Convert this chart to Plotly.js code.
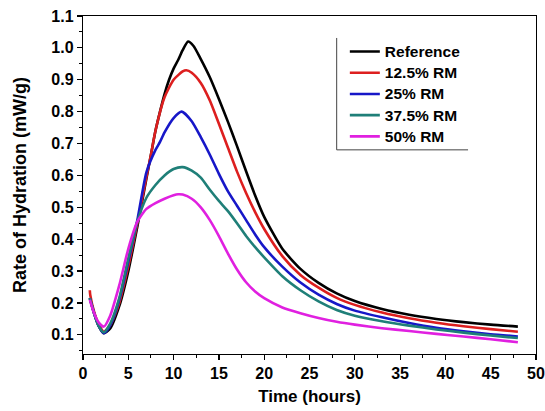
<!DOCTYPE html>
<html>
<head>
<meta charset="utf-8">
<script src="https://cdn.plot.ly/plotly-3.0.1.min.js"></script>
<style>html,body{margin:0;padding:0;background:#fff}#chart{width:545px;height:411px}</style>
</head>
<body>
<div id="chart"></div>
<script>
// Series names
const seriesNames = ["Reference", "12.5% RM", "25% RM", "37.5% RM", "50% RM"];

// Reference
const refTime = [0.75, 1.2, 1.7, 2.3, 3, 4, 5, 6, 7, 7.5, 8, 8.5, 9, 9.5, 10, 10.5, 11, 11.6, 12.2, 13, 14, 15, 16, 17, 18, 19, 20, 22, 24, 26, 28, 30, 33, 36, 39, 42, 45, 48];
const refRate = [0.215, 0.17, 0.13, 0.105, 0.12, 0.19, 0.3, 0.44, 0.59, 0.665, 0.74, 0.8, 0.855, 0.9, 0.935, 0.962, 0.993, 1.02, 1.006, 0.965, 0.908, 0.84, 0.768, 0.692, 0.613, 0.537, 0.47, 0.37, 0.307, 0.263, 0.23, 0.206, 0.181, 0.163, 0.15, 0.14, 0.132, 0.126];

// 12.5% RM
const rm125Time = [0.75, 0.8, 1.2, 1.7, 2.3, 3, 4, 5, 6, 7, 7.5, 8, 9, 10, 11, 11.4, 12, 13, 14, 15, 16, 17, 18, 19, 20, 22, 24, 26, 28, 30, 33, 36, 39, 42, 45, 48];
const rm125Rate = [0.24, 0.225, 0.175, 0.135, 0.11, 0.13, 0.2, 0.315, 0.45, 0.595, 0.665, 0.74, 0.845, 0.9, 0.926, 0.93, 0.922, 0.89, 0.835, 0.762, 0.687, 0.612, 0.545, 0.485, 0.432, 0.347, 0.288, 0.248, 0.216, 0.194, 0.17, 0.152, 0.138, 0.127, 0.118, 0.11];

// 25% RM
const rm25Time = [0.75, 1.2, 1.7, 2.3, 3, 4, 5, 6, 7, 8, 8.5, 9, 10, 10.9, 12, 13, 14, 15, 16, 17, 18, 19, 20, 22, 24, 26, 28, 30, 33, 36, 39, 42, 45, 48];
const rm25Rate = [0.215, 0.17, 0.13, 0.105, 0.13, 0.21, 0.33, 0.46, 0.61, 0.68, 0.705, 0.735, 0.78, 0.80, 0.77, 0.72, 0.665, 0.605, 0.55, 0.505, 0.46, 0.415, 0.375, 0.314, 0.264, 0.226, 0.197, 0.176, 0.155, 0.137, 0.122, 0.111, 0.102, 0.095];

// 37.5% RM
const rm375Time = [0.75, 1.2, 1.7, 2.3, 3, 4, 5, 6, 7, 8, 9, 10, 11, 12, 13, 14, 15, 16, 17, 18, 19, 20, 22, 24, 26, 28, 30, 33, 36, 39, 42, 45, 48];
const rm375Rate = [0.215, 0.17, 0.13, 0.108, 0.135, 0.215, 0.34, 0.455, 0.53, 0.57, 0.6, 0.62, 0.626, 0.615, 0.593, 0.555, 0.52, 0.488, 0.45, 0.41, 0.375, 0.343, 0.284, 0.24, 0.205, 0.178, 0.16, 0.143, 0.129, 0.117, 0.107, 0.098, 0.09];

// 50% RM
const rm50Time = [0.75, 1.2, 1.7, 2.3, 3, 4, 5, 6, 7, 8, 9, 10, 10.5, 11, 12, 13, 14, 15, 16, 17, 18, 19, 20, 22, 24, 26, 28, 30, 33, 36, 39, 42, 45, 48];
const rm50Rate = [0.21, 0.17, 0.14, 0.126, 0.16, 0.255, 0.37, 0.455, 0.495, 0.513, 0.527, 0.538, 0.541, 0.54, 0.527, 0.5, 0.46, 0.41, 0.355, 0.305, 0.265, 0.236, 0.215, 0.186, 0.168, 0.153, 0.141, 0.132, 0.121, 0.112, 0.103, 0.095, 0.086, 0.077];

const seriesTimes = [refTime, rm125Time, rm25Time, rm375Time, rm50Time];
const seriesRates = [refRate, rm125Rate, rm25Rate, rm375Rate, rm50Rate];
const seriesColors = ["#000000", "#dd1f1f", "#1717c8", "#1f7f78", "#e020e0"];

const traces = seriesNames.map((name, i) => ({
  x: seriesTimes[i],
  y: seriesRates[i],
  name: '<span style="font-size:15.5px">' + name + '</span>',
  type: "scatter",
  mode: "lines",
  line: {color: seriesColors[i], width: 2.6, shape: "spline", smoothing: 0.6}
}));

const fontFam = "Liberation Sans, Arial, sans-serif";

const layout = {
  width: 545, height: 411,
  margin: {l: 83, r: 9, t: 16, b: 57},
  paper_bgcolor: "#ffffff",
  plot_bgcolor: "#ffffff",
  font: {family: fontFam, color: "#000", size: 15, weight: "bold"},
  xaxis: {
    range: [0, 50],
    tick0: 0, dtick: 5,
    ticks: "outside", ticklen: 5, tickwidth: 1.2, tickcolor: "#000",
    minor: {ticks: "outside", ticklen: 3, dtick: 2.5, tickcolor: "#000", tickwidth: 1},
    showline: true, linecolor: "#000", linewidth: 1.2, mirror: true,
    showgrid: false, zeroline: false,
    tickfont: {family: fontFam, size: 16, weight: "bold", color: "#000"},
    title: {text: "Time (hours)", font: {family: fontFam, size: 17, weight: "bold", color: "#000"}, standoff: 8}
  },
  yaxis: {
    range: [0.04, 1.1],
    tick0: 0, dtick: 0.1, tickformat: ".1f",
    ticks: "outside", ticklen: 5, tickwidth: 1.2, tickcolor: "#000",
    minor: {ticks: "outside", ticklen: 3, dtick: 0.05, tickcolor: "#000", tickwidth: 1},
    showline: true, linecolor: "#000", linewidth: 1.2, mirror: true,
    showgrid: false, zeroline: false,
    tickfont: {family: fontFam, size: 16, weight: "bold", color: "#000"},
    title: {text: "Rate of Hydration (mW/g)", font: {family: fontFam, size: 18, weight: "bold", color: "#000"}, standoff: 20}
  },
  legend: {
    x: 0.578, y: 0.941, xanchor: "left", yanchor: "top",
    bgcolor: "rgba(0,0,0,0)", borderwidth: 0,
    font: {family: fontFam, size: 14, weight: "bold", color: "#000"},
    tracegroupgap: 0
  },
  showlegend: true,
  shapes: [
    {type: "line", xref: "paper", yref: "paper", x0: 0.560, x1: 0.560, y0: 0.604, y1: 0.935, line: {color: "#444", width: 1}},
    {type: "line", xref: "paper", yref: "paper", x0: 0.560, x1: 0.850, y0: 0.604, y1: 0.604, line: {color: "#444", width: 1}}
  ]
};

Plotly.newPlot("chart", traces, layout, {displayModeBar: false, staticPlot: true});
</script>
</body>
</html>
